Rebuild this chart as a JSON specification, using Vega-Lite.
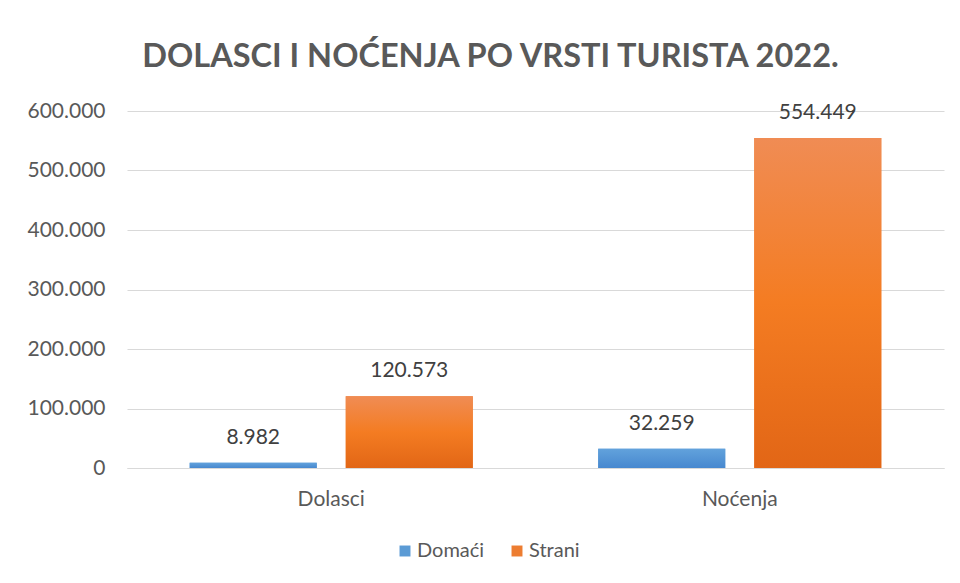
{
  "$schema": "https://vega.github.io/schema/vega-lite/v6.json",
  "width": 817,
  "height": 357,
  "autosize": {"type": "none"},
  "padding": {"left": 127, "top": 111, "right": 16, "bottom": 115},
  "background": "white",
  "config": {
    "locale": {"number": {"decimal": ",", "thousands": ".", "grouping": [3], "currency": ["", " €"]}},
    "view": {"stroke": null},
    "font": "Lato"
  },
  "title": {
    "text": "DOLASCI I NOĆENJA PO VRSTI TURISTA 2022.",
    "font": "Lato",
    "fontSize": 32.5,
    "fontWeight": "bold",
    "color": "#595959",
    "anchor": "middle",
    "dx": -45,
    "offset": 27
  },
  "data": {
    "values": [
      {"kategorija": "Dolasci", "vrsta": "Domaći", "broj": 8982},
      {"kategorija": "Dolasci", "vrsta": "Strani", "broj": 120573},
      {"kategorija": "Noćenja", "vrsta": "Domaći", "broj": 32259},
      {"kategorija": "Noćenja", "vrsta": "Strani", "broj": 554449}
    ]
  },
  "encoding": {
    "x": {
      "field": "kategorija",
      "type": "nominal",
      "sort": ["Dolasci", "Noćenja"],
      "scale": {"paddingInner": 0.307, "paddingOuter": 0.1535},
      "axis": {
        "title": null,
        "labelAngle": 0,
        "labelFontSize": 21,
        "labelColor": "#595959",
        "ticks": false,
        "domainColor": "#d9d9d9",
        "domainWidth": 1,
        "labelPadding": 20
      }
    },
    "xOffset": {
      "field": "vrsta",
      "type": "nominal",
      "sort": ["Domaći", "Strani"],
      "scale": {"paddingInner": 0.186, "paddingOuter": 0}
    },
    "y": {
      "field": "broj",
      "type": "quantitative",
      "scale": {"domain": [0, 600000], "nice": false},
      "axis": {
        "title": null,
        "format": ",d",
        "values": [0, 100000, 200000, 300000, 400000, 500000, 600000],
        "labelFontSize": 21,
        "labelColor": "#595959",
        "ticks": false,
        "domain": false,
        "gridColor": "#d9d9d9",
        "gridWidth": 1,
        "labelPadding": 22
      }
    }
  },
  "layer": [
    {
      "mark": {"type": "bar"},
      "encoding": {
        "color": {
          "field": "vrsta",
          "type": "nominal",
          "sort": ["Domaći", "Strani"],
          "scale": {"range": ["#5b9bd5", "#ed7d31"]},
          "legend": {
            "title": null,
            "orient": "none",
            "legendX": 268,
            "legendY": 430,
            "direction": "horizontal",
            "symbolType": "square",
            "symbolSize": 120,
            "symbolStrokeWidth": 0,
            "labelFontSize": 20,
            "labelColor": "#595959",
            "labelOffset": 2,
            "columnPadding": 22
          }
        }
      }
    },
    {
      "mark": {"type": "bar"},
      "encoding": {
        "fill": {
          "condition": {
            "test": "datum.vrsta === 'Domaći'",
            "value": {
              "gradient": "linear", "x1": 0, "y1": 0, "x2": 0, "y2": 1,
              "stops": [{"offset": 0, "color": "#62a2dc"}, {"offset": 1, "color": "#4788cf"}]
            }
          },
          "value": {
            "gradient": "linear", "x1": 0, "y1": 0, "x2": 0, "y2": 1,
            "stops": [{"offset": 0, "color": "#f08c54"}, {"offset": 0.5, "color": "#f47c22"}, {"offset": 1, "color": "#e26616"}]
          }
        }
      }
    },
    {
      "mark": {"type": "text", "dy": -19, "baseline": "alphabetic", "fontSize": 21, "color": "#404040"},
      "encoding": {
        "text": {"field": "broj", "type": "quantitative", "format": ",d"}
      }
    }
  ]
}
